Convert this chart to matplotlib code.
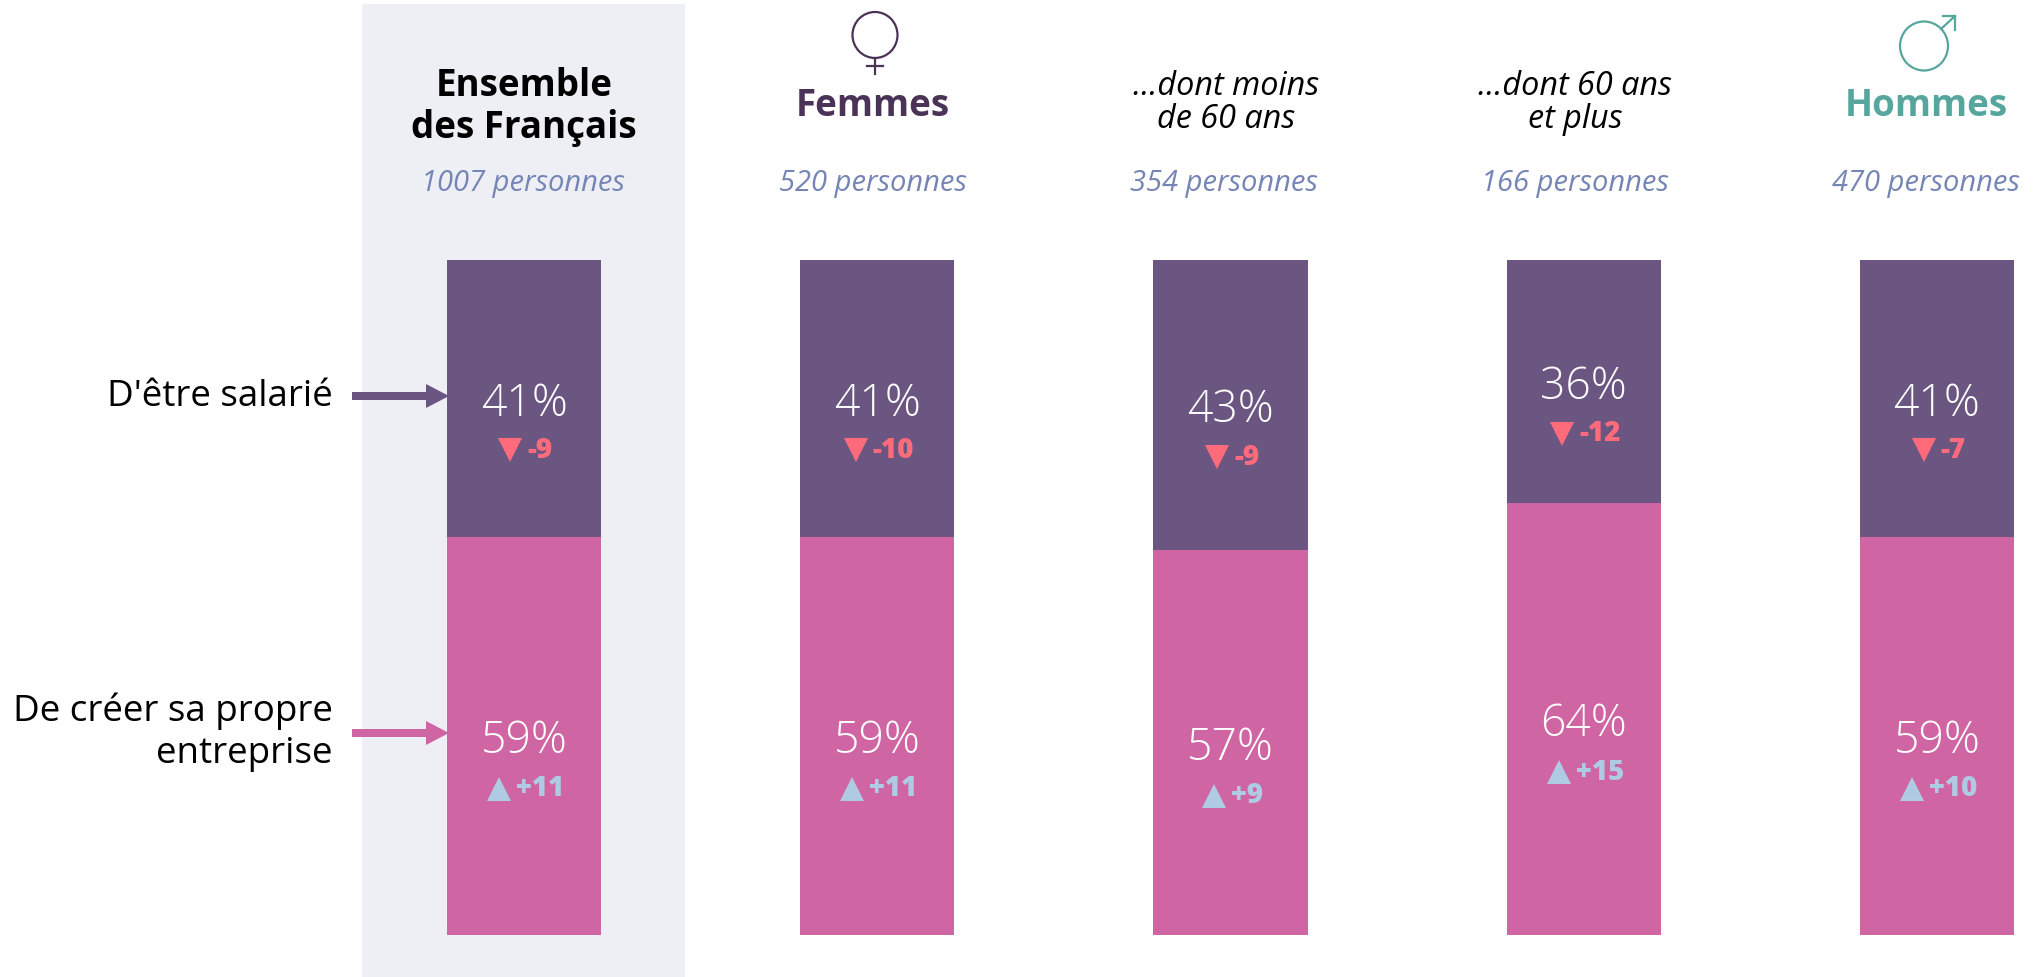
#%%
import matplotlib
matplotlib.use('Agg')
import matplotlib.pyplot as plt
from matplotlib.patches import Rectangle, Ellipse, Polygon
from matplotlib.lines import Line2D
from matplotlib.transforms import ScaledTranslation

#%%
groups = ['Ensemble\ndes Français', 'Femmes', '...dont moins\nde 60 ans', '...dont 60 ans\net plus', 'Hommes']
counts = ['1007 personnes', '520 personnes', '354 personnes', '166 personnes', '470 personnes']
salarie = [41, 41, 43, 36, 41]
entreprise = [59, 59, 57, 64, 59]
delta_salarie = [-9, -10, -9, -12, -7]
delta_entreprise = [11, 11, 9, 15, 10]
row_labels = ["D'être salarié", 'De créer sa propre\nentreprise']

PURPLE = '#6B5682'
PINK = '#D065A4'
BAND = '#EEEFF5'
RED = '#FF6B7A'
LIGHT = '#AECBE3'
DARK_PURPLE = '#4B3358'
TEAL = '#57A69E'
SUB = '#7585B5'
FONT = 'Open Sans'

W, H = 2041, 977
plt.rcParams['font.family'] = [FONT, 'DejaVu Sans']
fig = plt.figure(figsize=(W / 100, H / 100), dpi=100)

# background layer in pixels, for band / icons / arrows
bg = fig.add_axes([0, 0, 1, 1])
bg.set_xlim(0, W)
bg.set_ylim(H, 0)
bg.axis('off')
bg.add_patch(Rectangle((362, 4), 323, 973, color=BAND, lw=0))

#%%
# bars: x step 353.25 px, first centre 524 px, 100% = 675 px
ax = fig.add_axes([0, (H - 935) / H, 1, 675 / H])
ax.set_xlim(-524 / 353.25, (W - 524) / 353.25)
ax.set_ylim(0, 100)
ax.axis('off')
ax.patch.set_alpha(0)

xs = list(range(len(groups)))
ax.bar(xs, entreprise, width=0.436, color=PINK, lw=0)
ax.bar(xs, salarie, bottom=entreprise, width=0.436, color=PURPLE, lw=0)


def offset(dx, dy):
    # pixel offset from a data point, y down
    return ax.transData + ScaledTranslation(dx / 100, -dy / 100, fig.dpi_scale_trans)


def draw_delta(x, y, val, color, dy):
    s = f'+{val}' if val > 0 else f'-{abs(val)}'
    t = ax.text(x, y, s, color=color, fontsize=20, fontweight=800, ha='left', va='center',
                transform=offset(0, 0))
    w = t.get_window_extent(fig.canvas.get_renderer()).width
    left = 2 - (w + 28) / 2
    t.set_transform(offset(left + 28, dy))
    ax.plot([x], [y], marker='^' if val > 0 else 'v', color=color, ms=17, mew=0, ls='none',
            transform=offset(left + 11, dy))


for i in xs:
    mid_top = entreprise[i] + salarie[i] / 2
    mid_bot = entreprise[i] / 2
    ax.text(i, mid_top, f'{salarie[i]}%', color='white', fontsize=32, fontweight='light', ha='center',
            va='center', transform=offset(0, 6))
    ax.text(i, mid_bot, f'{entreprise[i]}%', color='white', fontsize=32, fontweight='light', ha='center',
            va='center', transform=offset(0, 6))
    draw_delta(i, mid_top, delta_salarie[i], RED, 52)
    draw_delta(i, mid_bot, delta_entreprise[i], LIGHT, 53)

#%%
# headers
def px_text(x, y, s, **kw):
    fig.text(x / W, 1 - y / H, s, ha=kw.pop('ha', 'center'), va='center', **kw)


px_text(524, 107, groups[0], fontsize=26.5, fontweight='bold', color='black', linespacing=1.12)
px_text(873, 106, groups[1], fontsize=26.5, fontweight='bold', color=DARK_PURPLE)
px_text(1226, 103, groups[2], fontsize=23.3, style='italic', color='black', linespacing=1.0)
px_text(1575, 103, groups[3], fontsize=23.3, style='italic', color='black', linespacing=1.0)
px_text(1926, 106, groups[4], fontsize=26.5, fontweight='bold', color=TEAL)

for x, c in zip([523, 873, 1224, 1575, 1926], counts):
    px_text(x, 184, c, fontsize=21, style='italic', color=SUB)

# row labels and arrows
px_text(333, 397, row_labels[0], fontsize=26.5, ha='right', color='black')
fig.text(333 / W, 1 - 732 / H, row_labels[1], fontsize=26.5, ha='right', va='center', color='black',
         multialignment='right', linespacing=1.22)
for y, col in [(396, PURPLE), (733, PINK)]:
    bg.add_patch(Polygon([(352, y - 4), (426, y - 4), (426, y - 12), (449, y), (426, y + 12),
                          (426, y + 4), (352, y + 4)], color=col, lw=0, zorder=5))

# gender icons
bg.add_patch(Ellipse((875, 35), 45, 46, fill=False, ec=DARK_PURPLE, lw=1.6))
bg.add_line(Line2D([875, 875], [58, 74], color=DARK_PURPLE, lw=1.6))
bg.add_line(Line2D([867, 883], [66, 66], color=DARK_PURPLE, lw=1.6))
bg.add_patch(Ellipse((1924, 46), 48, 49, fill=False, ec=TEAL, lw=1.6))
bg.add_line(Line2D([1941, 1955], [29, 16], color=TEAL, lw=1.6))
bg.add_line(Line2D([1943, 1955, 1955], [16, 16, 30], color=TEAL, lw=1.6))

fig.savefig('out.png', dpi=100)
